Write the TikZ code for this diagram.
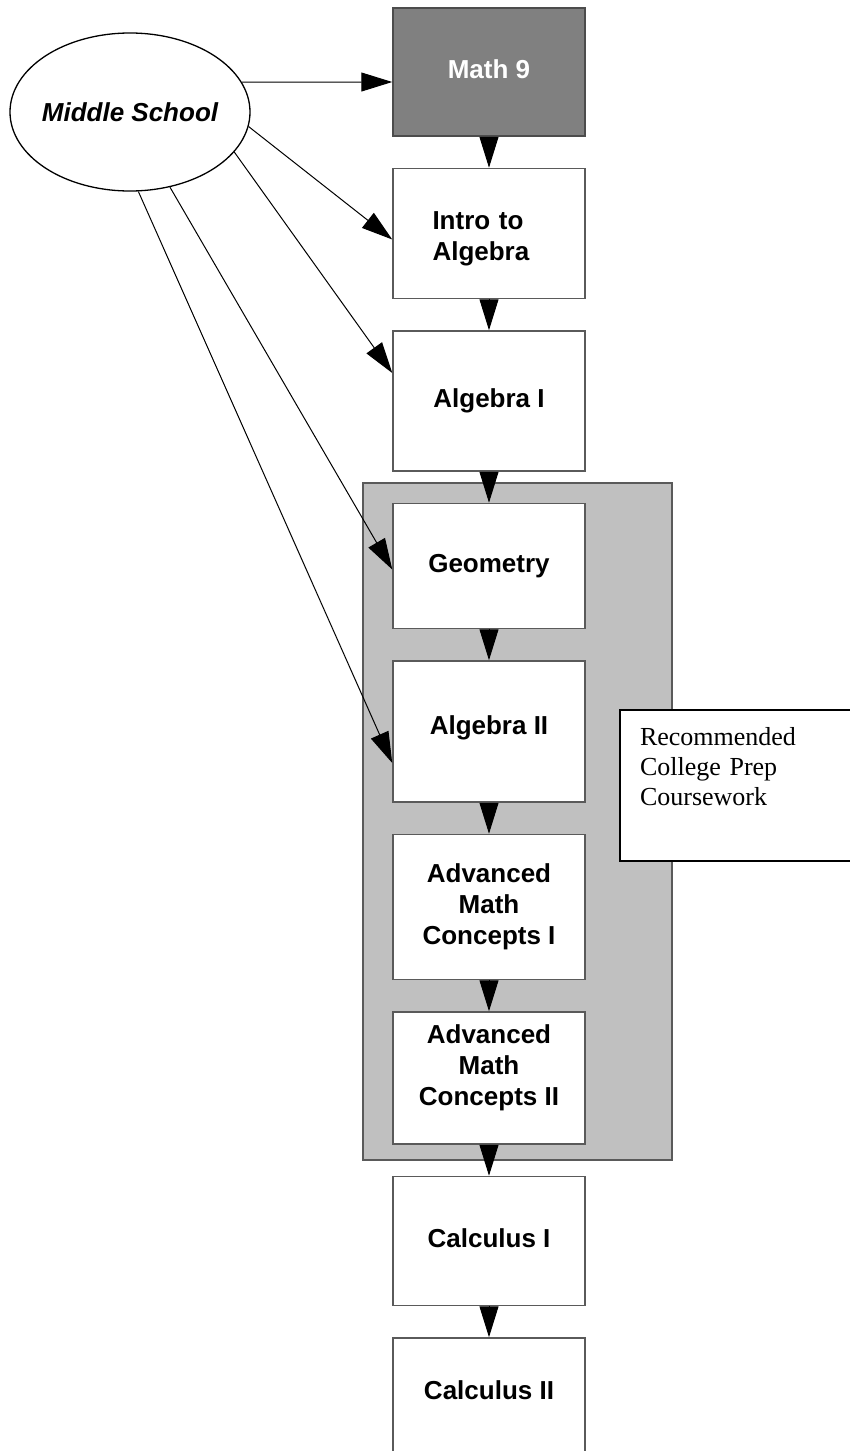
\documentclass[tikz,border=0pt]{standalone}
\usepackage{fontspec}
\setmainfont{Liberation Serif}
\setsansfont{Liberation Sans}
\usetikzlibrary{shapes,arrows.meta,positioning}

\definecolor{boxgray}{HTML}{808080}
\definecolor{zonegray}{HTML}{C0C0C0}
\definecolor{edgegray}{HTML}{5A5A5A}

\tikzset{
	course/.style={draw=edgegray, line width=1.5pt, fill=white, minimum width=192pt, align=center, text depth=6pt, font=\sffamily\bfseries\fontsize{26}{31}\selectfont},
	flow/.style={line width=1pt, -{Triangle[length=31pt,width=19pt]}},
	zone/.style={fill=zonegray, draw=edgegray, line width=2pt},
	start/.style={ellipse, draw, line width=1.3pt, inner sep=0pt, minimum width=240pt, minimum height=158pt, font=\sffamily\bfseries\itshape\fontsize{26}{31}\selectfont},
	notebox/.style={draw, line width=2pt, fill=white, anchor=north west, text width=200pt, align=left, inner xsep=20pt, inner ysep=17pt, text depth=99pt, font=\fontsize{26}{30}\selectfont}
}

\begin{document}
\begin{tikzpicture}[x=1pt, y=-1pt, node distance=31pt]
	\useasboundingbox (0,0) rectangle (850,1451);

	% college prep block
	\draw[zone] (363,483) rectangle (672,1160);

	\node[start] (ms) at (130,112) {\makebox[120pt]{Middle School}};

	\node[course, fill=boxgray, draw=black!70, text=white, minimum height=128pt] (math9) at (489,72) {Math 9};
	\node[course, minimum height=130pt, text width=113pt, align=left, text depth=26.5pt] (intro) [below=of math9] {Intro to\\Algebra};
	\node[course, minimum height=140pt] (alg1) [below=of intro] {Algebra I};
	\node[course, minimum height=125pt] (geom) [below=of alg1] {Geometry};
	\node[course, minimum height=141pt, text depth=13pt] (alg2) [below=of geom] {Algebra II};
	\node[course, minimum height=145pt] (amc1) [below=of alg2] {Advanced\\Math\\Concepts I};
	\node[course, minimum height=132pt, text depth=25pt] (amc2) [below=of amc1] {Advanced\\Math\\Concepts II};
	\node[course, minimum height=129pt] (calc1) [below=of amc2] {Calculus I};
	\node[course, minimum height=130pt, text depth=26pt] (calc2) [below=of calc1] {Calculus II};

	\node[notebox] (note) at (619,709) {Recommended\\College Prep\\Coursework};

	\draw[flow] (math9) -- (intro);
	\draw[flow] (intro) -- (alg1);
	\draw[flow] (alg1) -- (geom);
	\draw[flow] (geom) -- (alg2);
	\draw[flow] (alg2) -- (amc1);
	\draw[flow] (amc1) -- (amc2);
	\draw[flow] (amc2) -- (calc1);
	\draw[flow] (calc1) -- (calc2);

	\draw[flow] (ms.15) -- ([yshift=-10pt]math9.west);
	\draw[flow] (ms.-7) -- ([yshift=-6pt]intro.west);
	\draw[flow] (ms.-21) -- ([yshift=28pt]alg1.west);
	\draw[flow] (ms.-62) -- ([yshift=-3.5pt]geom.west);
	\draw[flow] (ms.-84) -- ([yshift=-31.5pt]alg2.west);
\end{tikzpicture}
\end{document}
